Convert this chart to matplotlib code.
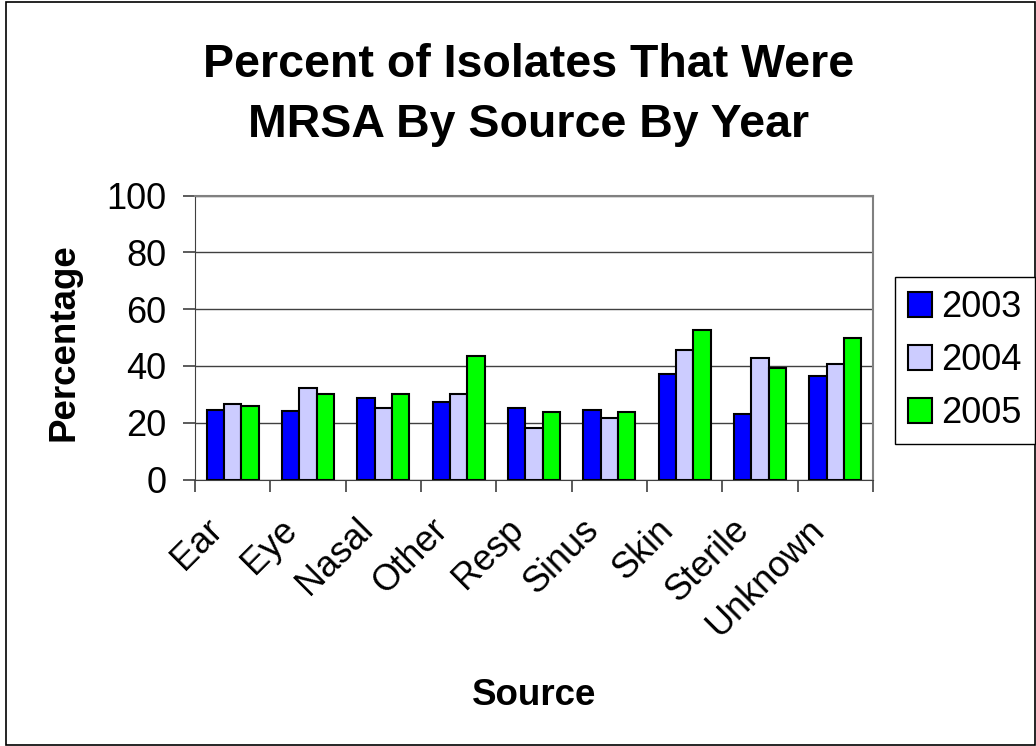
import numpy as np
import matplotlib.pyplot as plt
from matplotlib.patches import Rectangle
from matplotlib.transforms import ScaledTranslation

plt.rcParams['font.family'] = ['Liberation Sans', 'DejaVu Sans']

# Percentual de isolados MRSA por fonte e ano
sources = ['Ear', 'Eye', 'Nasal', 'Other', 'Resp', 'Sinus', 'Skin', 'Sterile', 'Unknown']
years = ['2003', '2004', '2005']
pct_2003 = [24.6, 24.0, 28.8, 27.4, 25.3, 24.6, 37.2, 23.1, 36.5]
pct_2004 = [26.7, 32.3, 25.3, 30.2, 18.2, 21.7, 45.7, 42.9, 40.8]
pct_2005 = [26.0, 30.2, 30.2, 43.6, 23.9, 23.9, 52.8, 39.4, 49.9]
colors = ['#0000ff', '#ccccff', '#00ff00']

W, H = 1036, 746
fig = plt.figure(figsize=(W / 100, H / 100), dpi=100)
ax = fig.add_axes([195 / W, 1 - 479.5 / H, (873 - 195) / W, (479.5 - 195.5) / H])

x = np.arange(len(sources))
w = 0.231
for i, (vals, c, lab) in enumerate(zip([pct_2003, pct_2004, pct_2005], colors, years)):
    ax.bar(x + (i - 1) * w, vals, w, color=c, edgecolor='black', linewidth=1.5,
           label=lab, zorder=3)

ax.set_xlim(-0.5, len(sources) - 0.5)
ax.set_ylim(0, 100)
ax.set_yticks(range(0, 101, 20))
ax.yaxis.grid(True, color='#404040', linewidth=1, zorder=0)

# ticks entre as categorias
ax.set_xticks(np.arange(-0.5, len(sources)))
ax.set_xticklabels([])
ax.tick_params(axis='x', length=8.4, width=1.2, color='#404040')
ax.tick_params(axis='y', length=8.4, width=1.2, color='#404040', labelsize=26, pad=12)

# rótulos das categorias inclinados a 45 graus
offset = ScaledTranslation(-0.16, -0.45, fig.dpi_scale_trans)
for xi, name in zip(x, sources):
    ax.text(xi, 0, name, transform=ax.get_xaxis_transform() + offset, rotation=45,
            rotation_mode='anchor', ha='right', va='center', fontsize=26)

for s in ['top', 'right']:
    ax.spines[s].set_color('#808080')
    ax.spines[s].set_linewidth(1.5)
ax.spines['left'].set_color('#404040')
ax.spines['bottom'].set_color('#404040')

# título em duas linhas
fig.text(529 / W, 1 - 76.7 / H, 'Percent of Isolates That Were', ha='center',
         va='baseline', fontsize=33.5, fontweight='bold')
fig.text(529 / W, 1 - 136.7 / H, 'MRSA By Source By Year', ha='center',
         va='baseline', fontsize=33.5, fontweight='bold')
fig.text(73.3 / W, 1 - 341.7 / H, 'Percentage', rotation=90, rotation_mode='anchor',
         ha='center', va='baseline', fontsize=26.5, fontweight='bold')
fig.text(534 / W, 1 - 705 / H, 'Source', ha='center', va='baseline',
         fontsize=26.5, fontweight='bold')

leg = fig.legend(loc='upper left', bbox_to_anchor=(895 / W, 1 - 277 / H), fontsize=26,
                 fancybox=False, edgecolor='black', framealpha=1,
                 handlelength=0.67, handleheight=0.67, handletextpad=0.25,
                 labelspacing=0.5, borderpad=0.36, borderaxespad=0)
leg.get_frame().set_linewidth(1)

fig.patches.append(Rectangle((6 / W, 1 / H), 1028.5 / W, 743.5 / H, transform=fig.transFigure,
                             fill=False, edgecolor='black', linewidth=1.2))

fig.savefig('out.png', dpi=100)
